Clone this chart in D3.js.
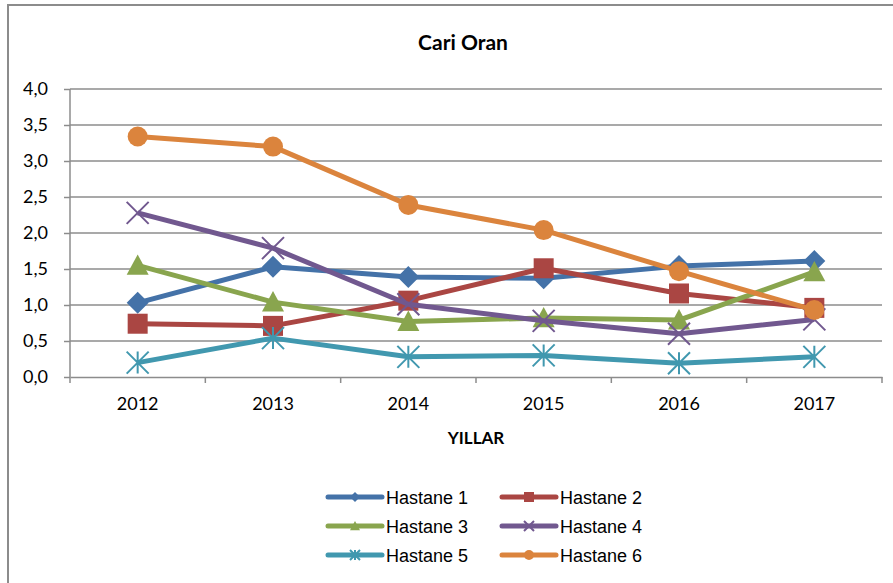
<!DOCTYPE html>
<html>
<head>
<meta charset="utf-8">
<script src="https://cdn.jsdelivr.net/npm/d3@7"></script>
<style>
  body{ margin:0; background:#fff; }
  svg{ display:block; }
  .tick text{ font-family: Lato, "Open Sans", sans-serif; font-size:18px; fill:#000; }
  .legend text{ font-family: "Liberation Sans", Arial, sans-serif; font-size:18px; fill:#000; }
</style>
</head>
<body>
<svg id="chart" width="893" height="583"></svg>
<script>
// data
var years = ["2012", "2013", "2014", "2015", "2016", "2017"];
var seriesNames = ["Hastane 1", "Hastane 2", "Hastane 3", "Hastane 4", "Hastane 5", "Hastane 6"];
var hastane1 = [1.03, 1.53, 1.39, 1.37, 1.54, 1.61];
var hastane2 = [0.74, 0.71, 1.06, 1.51, 1.16, 0.96];
var hastane3 = [1.55, 1.04, 0.77, 0.82, 0.79, 1.46];
var hastane4 = [2.28, 1.79, 1.01, 0.78, 0.60, 0.80];
var hastane5 = [0.20, 0.54, 0.28, 0.30, 0.19, 0.28];
var hastane6 = [3.34, 3.20, 2.39, 2.04, 1.47, 0.93];
var yTicks = [0, 0.5, 1, 1.5, 2, 2.5, 3, 3.5, 4];

var colors = ["#4472a8", "#aa4643", "#89a54e", "#71588f", "#4198af", "#db843d"];
var markers = ["diamond", "square", "triangle", "x", "star", "circle"];
var allSeries = [hastane1, hastane2, hastane3, hastane4, hastane5, hastane6];

(function(){
var svg = d3.select("#chart");

// outer chart box
svg.append("rect")
  .attr("x", 8).attr("y", 5).attr("width", 900).attr("height", 600)
  .attr("fill", "#fff").attr("stroke", "#8c8c8c").attr("stroke-width", 2);

var pLeft = 70, pRight = 882, pTop = 89, pBottom = 377;

var x = d3.scaleBand().domain(years).range([pLeft, pRight]);
var y = d3.scaleLinear().domain([0, 4]).range([pBottom, pTop]);

// grid lines
svg.append("g")
  .selectAll("line").data(yTicks.slice(1)).enter().append("line")
  .attr("x1", pLeft).attr("x2", pRight)
  .attr("y1", function(d){ return y(d); }).attr("y2", function(d){ return y(d); })
  .attr("stroke", "#8c8c8c").attr("stroke-width", 1.5);

var fmt = function(d){ return d3.format(".1f")(d).replace(".", ","); };

var yAxis = svg.append("g").attr("transform", "translate(" + pLeft + ",0)")
  .call(d3.axisLeft(y).tickValues(yTicks).tickFormat(fmt).tickSize(6).tickPadding(16));
yAxis.selectAll("line").attr("stroke", "#8c8c8c").attr("stroke-width", 1.5);
yAxis.select(".domain").remove();
svg.append("line").attr("x1", pLeft).attr("x2", pLeft).attr("y1", pTop).attr("y2", pBottom)
  .attr("stroke", "#8c8c8c").attr("stroke-width", 1.5);

var xAxis = svg.append("g").attr("transform", "translate(0," + pBottom + ")")
  .call(d3.axisBottom(x).tickSize(0).tickPadding(20));
xAxis.select("path").attr("stroke", "#8c8c8c").attr("stroke-width", 1.5);
// ticks between categories
xAxis.selectAll(".sep").data(d3.range(years.length + 1)).enter().append("line")
  .attr("class", "sep")
  .attr("x1", function(i){ return pLeft + i * x.step(); })
  .attr("x2", function(i){ return pLeft + i * x.step(); })
  .attr("y1", 0).attr("y2", 6)
  .attr("stroke", "#8c8c8c").attr("stroke-width", 1.5);

// titles
svg.append("text").attr("x", 463).attr("y", 50).attr("text-anchor", "middle")
  .style("font-family", "Lato, 'Open Sans', sans-serif").style("font-weight", "bold").style("font-size", "21px")
  .text("Cari Oran");
svg.append("text").attr("x", 476).attr("y", 444).attr("text-anchor", "middle")
  .style("font-family", "Lato, 'Open Sans', sans-serif").style("font-weight", "bold").style("font-size", "17px")
  .text("YILLAR");

function drawMarker(g, type, color, s) {
  if (type === "diamond") {
    g.append("path").attr("d", "M0," + (-s) + "L" + s + ",0L0," + s + "L" + (-s) + ",0Z").attr("fill", color);
  } else if (type === "square") {
    g.append("rect").attr("x", -s).attr("y", -s).attr("width", 2 * s).attr("height", 2 * s).attr("fill", color);
  } else if (type === "triangle") {
    g.append("path").attr("d", "M0," + (-s) + "L" + s + "," + s * 0.85 + "L" + (-s) + "," + s * 0.85 + "Z").attr("fill", color);
  } else if (type === "circle") {
    g.append("circle").attr("r", s).attr("fill", color);
  } else if (type === "x") {
    g.append("path").attr("d", "M" + (-s) + "," + (-s) + "L" + s + "," + s + "M" + (-s) + "," + s + "L" + s + "," + (-s))
      .attr("stroke", color).attr("stroke-width", 2);
  } else if (type === "star") {
    g.append("path").attr("d", "M" + (-s) + "," + (-s) + "L" + s + "," + s + "M" + (-s) + "," + s + "L" + s + "," + (-s) + "M0," + (-s) + "L0," + s)
      .attr("stroke", color).attr("stroke-width", 2);
  }
}

var line = d3.line()
  .x(function(d, i){ return x(years[i]) + x.bandwidth() / 2; })
  .y(function(d){ return y(d); });

var markerSize = [11, 10, 11, 11, 11, 10];

allSeries.forEach(function(vals, k){
  var g = svg.append("g");
  g.append("path").datum(vals).attr("d", line)
    .attr("fill", "none").attr("stroke", colors[k]).attr("stroke-width", 5).attr("stroke-linejoin", "round");
  vals.forEach(function(v, i){
    var m = g.append("g").attr("transform", "translate(" + (x(years[i]) + x.bandwidth() / 2) + "," + y(v) + ")");
    drawMarker(m, markers[k], colors[k], markerSize[k]);
  });
});

// legend
var legend = svg.append("g").attr("class", "legend");
seriesNames.forEach(function(name, k){
  var col = k % 2, row = Math.floor(k / 2);
  var lx = 328 + col * 174, ly = 497 + row * 29;
  var g = legend.append("g").attr("transform", "translate(" + lx + "," + ly + ")");
  g.append("line").attr("x1", 0).attr("x2", 54).attr("y1", 0).attr("y2", 0)
    .attr("stroke", colors[k]).attr("stroke-width", 5).attr("stroke-linecap", "round");
  var m = g.append("g").attr("transform", "translate(27,0)");
  drawMarker(m, markers[k], colors[k], 5);
  g.append("text").attr("x", 58).attr("y", 6.5).text(name);
});
})();
</script>
</body>
</html>
